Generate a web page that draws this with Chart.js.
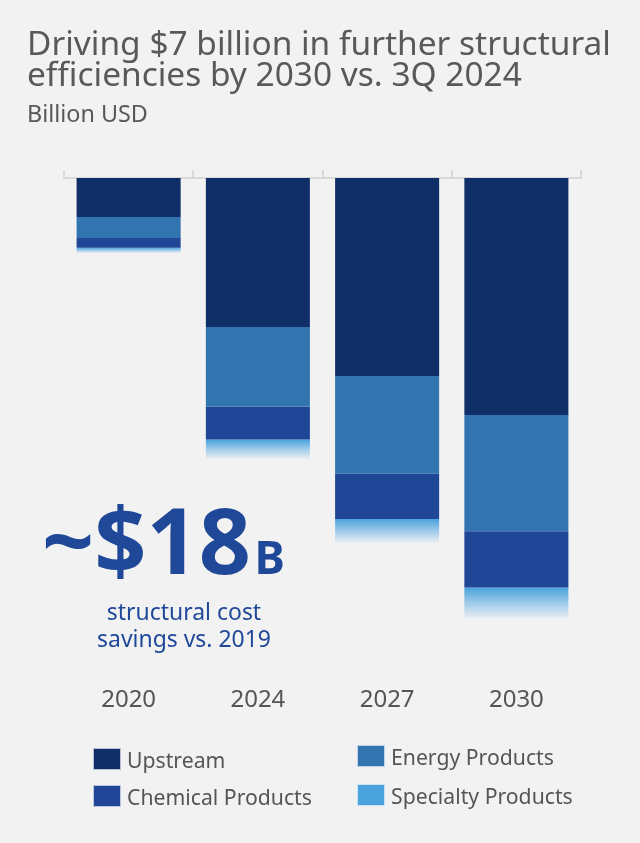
<!DOCTYPE html>
<html>
<head>
<meta charset="utf-8">
<title>Structural efficiencies</title>
<script src="https://cdn.jsdelivr.net/npm/chart.js@4.4.1/dist/chart.umd.min.js"></script>
<style>
    html, body { margin: 0; padding: 0; background: #f2f2f2; }
    body { width: 640px; height: 843px; position: relative; overflow: hidden; font-family: "Noto Sans", sans-serif; }
    #chart { position: absolute; left: 0; top: 0; }
    .txt { position: absolute; white-space: nowrap; line-height: 1.2; left: 0; top: 0; }
    .title { color: #595959; font-size: 33px; }
    .sub { color: #595959; font-size: 22px; }
    .big { color: #1f4899; font-size: 86px; font-weight: bold; }
    .big .unit { font-size: 0.5em; margin-left: 0.08em; }
    .note { color: #1f4899; font-size: 23px; }
    .legend-box { position: absolute; width: 28px; height: 22px; box-sizing: border-box; border: 1px solid rgba(255,255,255,0.7); }
    .legend-text { color: #555555; font-size: 22px; }
</style>
</head>
<body>
<canvas id="chart" width="640" height="843"></canvas>
<div class="txt title" id="title1">Driving $7 billion in further structural</div>
<div class="txt title" id="title2">efficiencies by 2030 vs. 3Q 2024</div>
<div class="txt sub" id="subtitle">Billion USD</div>
<div class="txt big" id="big">~$18<span class="unit">B</span></div>
<div class="txt note" id="note1">structural cost</div>
<div class="txt note" id="note2">savings vs. 2019</div>
<div id="legend"></div>
<script>
var years = ['2020', '2024', '2027', '2030'];
var upstream = [1.6, 6.1, 8.1, 9.7];
var energyProducts = [0.85, 3.25, 4.0, 4.75];
var chemicalProducts = [0.4, 1.35, 1.85, 2.3];
var specialtyProducts = [0.22, 0.8, 1.0, 1.3];
var seriesNames = ['Upstream', 'Energy Products', 'Chemical Products', 'Specialty Products'];
var seriesColors = ['#102f69', '#3274b0', '#1f4697', '#4aa3dc'];
var axisMax = 18;

(function () {
    // font fitted to a target width, then placed by its first baseline
    var fitSize = function (el, width) {
        var size = parseFloat(getComputedStyle(el).fontSize);
        var w = el.getBoundingClientRect().width;
        el.style.fontSize = (size * width / w) + 'px';
        return el.style.fontSize;
    };

    var placeText = function (el, x, baseline, align) {
        var probe = document.createElement('span');
        probe.style.cssText = 'display:inline-block;width:0;height:0;';
        el.insertBefore(probe, el.firstChild);
        var w = el.getBoundingClientRect().width;
        el.style.left = (align === 'center' ? x - w / 2 : x) + 'px';
        el.style.top = (baseline - probe.offsetTop) + 'px';
    };

    var byId = function (id) { return document.getElementById(id); };

    var titleSize = fitSize(byId('title1'), 584);
    byId('title2').style.fontSize = titleSize;
    placeText(byId('title1'), 27, 54.5);
    placeText(byId('title2'), 27, 86);

    fitSize(byId('subtitle'), 121);
    placeText(byId('subtitle'), 27, 122);

    fitSize(byId('big'), 243);
    placeText(byId('big'), 42, 574);

    var noteSize = fitSize(byId('note2'), 174);
    byId('note1').style.fontSize = noteSize;
    placeText(byId('note1'), 184, 620, 'center');
    placeText(byId('note2'), 184, 647, 'center');

    // legend, two columns
    var legendSpots = [
        { x: 93, y: 748 },
        { x: 357, y: 745 },
        { x: 93, y: 785 },
        { x: 357, y: 784 }
    ];
    var legend = byId('legend');
    var texts = [];
    for (var i = 0; i < seriesNames.length; ++i) {
        var box = document.createElement('div');
        box.className = 'legend-box';
        box.style.left = legendSpots[i].x + 'px';
        box.style.top = legendSpots[i].y + 'px';
        box.style.background = seriesColors[i];
        legend.appendChild(box);
        var label = document.createElement('div');
        label.className = 'txt legend-text';
        label.textContent = seriesNames[i];
        legend.appendChild(label);
        texts.push(label);
    }
    var legendSize = fitSize(texts[2], 185);
    for (var j = 0; j < texts.length; ++j) {
        texts[j].style.fontSize = legendSize;
        placeText(texts[j], legendSpots[j].x + 34, legendSpots[j].y + 19.5);
    }
})();

var specialtyFill = function (context) {
    var chart = context.chart;
    if (context.type !== 'data' || !chart.chartArea) {
        return seriesColors[3];
    }
    var i = context.dataIndex;
    var start = upstream[i] + energyProducts[i] + chemicalProducts[i];
    var y = chart.scales.y;
    var top = y.getPixelForValue(start);
    var bottom = y.getPixelForValue(start + specialtyProducts[i]);
    var g = chart.ctx.createLinearGradient(0, top, 0, bottom);
    g.addColorStop(0, '#4aa3dc');
    g.addColorStop(0.5, '#a0cbea');
    g.addColorStop(1, '#eef0f2');
    return g;
};

var ctx = document.getElementById('chart');
var chart = new Chart(ctx, {
    type: 'bar',
    data: {
        labels: years,
        datasets: [
            { label: seriesNames[0], data: upstream, backgroundColor: seriesColors[0] },
            { label: seriesNames[1], data: energyProducts, backgroundColor: seriesColors[1] },
            { label: seriesNames[2], data: chemicalProducts, backgroundColor: seriesColors[2] },
            { label: seriesNames[3], data: specialtyProducts, backgroundColor: specialtyFill }
        ]
    },
    options: {
        responsive: false,
        animation: false,
        layout: { padding: { left: 64, right: 59, top: 170, bottom: 0 } },
        datasets: { bar: { categoryPercentage: 0.805, barPercentage: 1, borderWidth: 0 } },
        plugins: {
            legend: { display: false },
            tooltip: { enabled: false }
        },
        scales: {
            x: {
                position: 'top',
                stacked: true,
                offset: true,
                grid: { display: true, offset: true, drawOnChartArea: false, drawTicks: true, tickLength: 8, color: '#d9d9d9', lineWidth: 2 },
                border: { display: true, color: '#d9d9d9', width: 2 },
                ticks: { display: false },
                afterFit: function (scale) { scale.height = 8; }
            },
            x2: {
                type: 'category',
                position: 'bottom',
                offset: true,
                grid: { display: false, drawTicks: false },
                border: { display: false },
                ticks: { color: '#555555', font: { family: 'Noto Sans', size: 24 }, padding: 68 },
                afterFit: function (scale) { scale.height = 225; }
            },
            y: {
                display: false,
                stacked: true,
                reverse: true,
                min: 0,
                max: axisMax
            }
        }
    }
});
</script>
</body>
</html>
